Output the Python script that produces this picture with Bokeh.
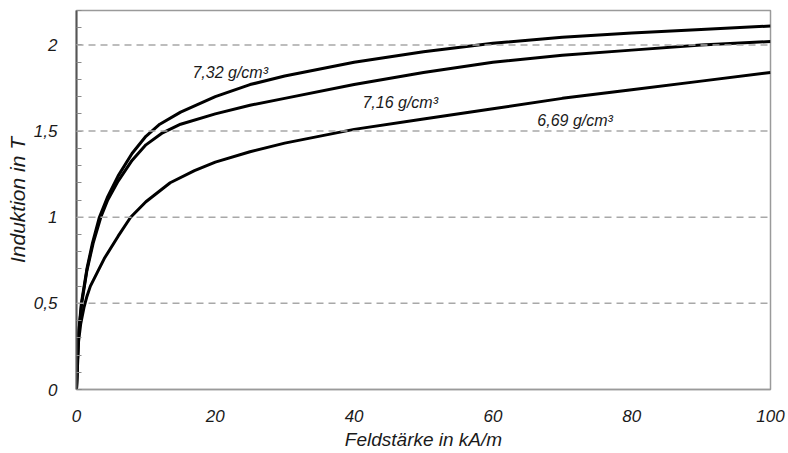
from bokeh.plotting import figure
from bokeh.models import Range1d, SingleIntervalTicker, FixedTicker, Span
from bokeh.core.properties import value
from bokeh.embed import file_html
from bokeh.resources import INLINE

# Feldstärke (kA/m) and Induktion (T)
h_732 = [0, 0.25, 0.7, 1.5, 2.3, 3.3, 4.5, 6, 8, 10, 12, 15, 20, 25, 30, 40, 50, 60, 70, 80, 90, 100]
b_732 = [0, 0.30, 0.50, 0.70, 0.85, 1.00, 1.12, 1.24, 1.37, 1.47, 1.54, 1.61, 1.70, 1.77, 1.82, 1.90, 1.96, 2.01, 2.045, 2.07, 2.09, 2.11]

h_716 = [0, 0.25, 0.75, 1.5, 2.4, 3.5, 4.5, 6, 8, 10, 12.4, 15, 20, 25, 30, 40, 50, 60, 70, 80, 90, 100]
b_716 = [0, 0.30, 0.50, 0.69, 0.85, 1.00, 1.10, 1.21, 1.33, 1.42, 1.49, 1.54, 1.60, 1.65, 1.69, 1.77, 1.84, 1.90, 1.94, 1.97, 2.00, 2.02]

h_669 = [0, 0.3, 0.6, 1.1, 1.5, 2, 3, 4, 6, 7.8, 10, 13.5, 17, 20, 25, 30, 40, 50, 60, 70, 80, 90, 100]
b_669 = [0, 0.28, 0.38, 0.48, 0.54, 0.60, 0.68, 0.76, 0.89, 1.00, 1.09, 1.20, 1.27, 1.32, 1.38, 1.43, 1.51, 1.57, 1.63, 1.69, 1.74, 1.79, 1.84]

curve_labels = ["7,32 g/cm³", "7,16 g/cm³", "6,69 g/cm³"]
label_x = [16.7, 41.2, 66.4]
label_y = [1.84, 1.667, 1.561]

x_ticks = [0, 20, 40, 60, 80, 100]
y_ticks = [0, 0.5, 1, 1.5, 2]
y_tick_labels = ["0", "0,5", "1", "1,5", "2"]
grid_levels = [0.5, 1, 1.5, 2]

FONT = "Liberation Sans"
TXT = "#1a1a1a"

p = figure(width=788, height=453, output_backend="svg", toolbar_location=None,
           x_range=Range1d(0, 100), y_range=Range1d(0, 2.2),
           min_border_left=76, min_border_right=18, min_border_top=10, min_border_bottom=64)
p.background_fill_color = "white"
p.border_fill_color = "white"
p.outline_line_color = "#9a9a9a"
p.outline_line_width = 1.5
p.xgrid.visible = False
p.ygrid.visible = False

for lv in grid_levels:
    p.add_layout(Span(location=lv, dimension="width", line_color="#a8a8a8",
                      line_width=1.5, line_dash="7 5"))

for hx, by in [(h_732, b_732), (h_716, b_716), (h_669, b_669)]:
    p.line(hx, by, line_color="black", line_width=3, line_join="round")

p.text(x=label_x, y=label_y, text=curve_labels, text_font=value(FONT),
       text_font_style="italic", text_font_size="16px", text_color=TXT,
       text_baseline="alphabetic", text_align="left")

# x axis
p.xaxis.ticker = FixedTicker(ticks=x_ticks)
p.xaxis.axis_label = "Feldstärke in kA/m"
p.xaxis.major_tick_line_color = None
p.xaxis.minor_tick_line_color = None
p.xaxis.axis_line_color = "#9a9a9a"
p.xaxis.axis_line_width = 1.5
p.xaxis.major_label_standoff = 14
p.xaxis.axis_label_standoff = 4

# y axis
p.yaxis.ticker = SingleIntervalTicker(interval=0.5, num_minor_ticks=5)
p.yaxis.major_label_overrides = {t: s for t, s in zip(y_ticks, y_tick_labels)}
p.yaxis.axis_label = "Induktion in T"
p.yaxis.major_tick_in = 5
p.yaxis.major_tick_out = 0
p.yaxis.minor_tick_in = 5
p.yaxis.minor_tick_out = 0
p.yaxis.major_tick_line_color = "#8a8a8a"
p.yaxis.minor_tick_line_color = "#8a8a8a"
p.yaxis.axis_line_color = "#555555"
p.yaxis.axis_line_width = 2
p.yaxis.major_label_standoff = 19
p.yaxis.axis_label_standoff = 2

for ax in (p.xaxis, p.yaxis):
    ax.major_label_text_font = FONT
    ax.major_label_text_font_style = "italic"
    ax.major_label_text_font_size = "17px"
    ax.major_label_text_color = TXT
    ax.axis_label_text_font = FONT
    ax.axis_label_text_font_style = "italic"
    ax.axis_label_text_color = TXT
p.xaxis.axis_label_text_font_size = "19px"
p.yaxis.axis_label_text_font_size = "21px"

open("out.html", "w").write(file_html(p, INLINE))
